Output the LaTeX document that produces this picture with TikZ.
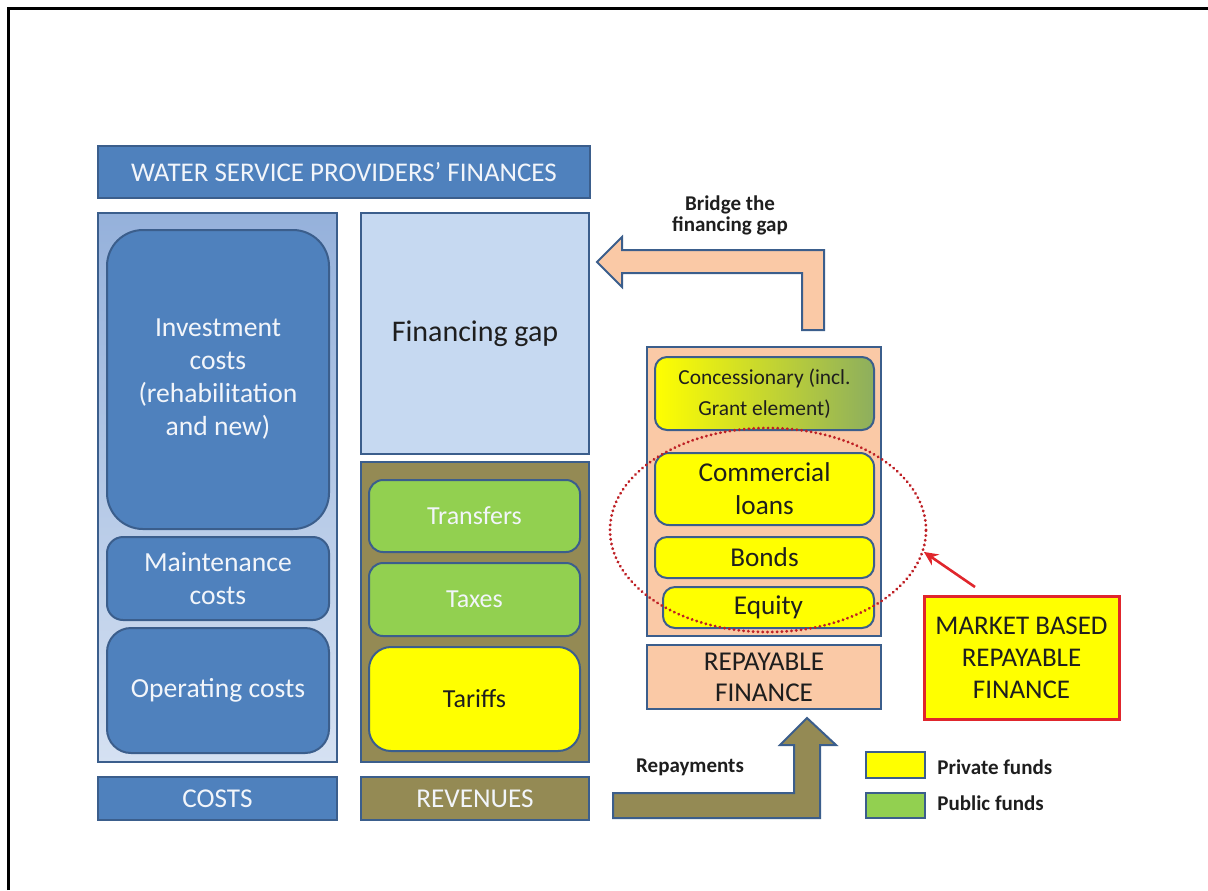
\documentclass[tikz,border=0pt]{standalone}
\usepackage{fontspec}
\setmainfont{Carlito}
\usetikzlibrary{shapes.geometric,arrows.meta}
\definecolor{blueF}{HTML}{4F81BD}
\definecolor{blueD}{HTML}{3B5E8C}
\definecolor{contTop}{HTML}{95B1DB}
\definecolor{contBot}{HTML}{D5E1F2}
\definecolor{gapF}{HTML}{C6D9F1}
\definecolor{oliveF}{HTML}{948A54}
\definecolor{greenF}{HTML}{92D050}
\definecolor{yellowF}{HTML}{FFFF00}
\definecolor{peachF}{HTML}{FAC9A6}
\definecolor{redL}{HTML}{E0262C}
\definecolor{txtW}{HTML}{F2F5FA}
\definecolor{txtD}{HTML}{1E1E1E}
\definecolor{concR}{HTML}{8DAE5E}
% box node from pixel corners: [options]{name}{x1}{y1}{x2}{y2}{text}
\newcommand\pxbox[7][]{%
  \pgfmathsetmacro\pxcx{(#3+#5)/2}%
  \pgfmathsetmacro\pxcy{(#4+#6)/2}%
  \pgfmathsetmacro\pxw{(#5-#3)/2}%
  \pgfmathsetmacro\pxh{(#6-#4)/2}%
  \node[#1, minimum width=\pxw pt, minimum height=\pxh pt] (#2) at (\pxcx,\pxcy) {#7};}
\begin{document}
\begin{tikzpicture}[x=0.5pt,y=-0.5pt,
  box/.style={draw=blueD, line width=1pt, inner sep=0pt, align=center},
  bluebox/.style={box, fill=blueF, text=txtW},
  greenbox/.style={box, fill=greenF, text=txtW},
  yelbox/.style={box, fill=yellowF, text=txtD},
  peachbox/.style={box, fill=peachF, text=txtD},
  lab/.style={font=\fontsize{13.6}{16.5}\selectfont},
  caps/.style={font=\fontsize{13.6}{15.5}\selectfont},
  boldlab/.style={font=\bfseries\fontsize{10.5}{10.5}\selectfont, text=txtD, align=center, inner sep=0pt},
  blockarrow/.style={draw=blueD, line width=1pt, line join=miter}
]
\useasboundingbox (0,0) rectangle (1208,890);
% frame
\draw[line width=1.5pt] (8,890) -- (8,8) -- (1208,8);

% title
\pxbox[bluebox, font=\fontsize{13.5}{15}\selectfont]{title}{98}{146}{590}{198}{WATER SERVICE PROVIDERS’ FINANCES}

% costs column
\pxbox[box, top color=contTop, bottom color=contBot]{costcol}{98}{213}{337}{762}{}
\pxbox[bluebox, lab, font=\fontsize{13.8}{16.5}\selectfont, rounded corners=18pt]{invest}{107}{230}{329}{529}{Investment\\costs\\(rehabilitation\\and new)}
\pxbox[bluebox, lab, font=\fontsize{13.8}{16.5}\selectfont, rounded corners=8pt]{maint}{107}{537}{329}{620}{Maintenance\\costs}
\pxbox[bluebox, lab, font=\fontsize{13.8}{16.5}\selectfont, rounded corners=12pt]{oper}{107}{628}{329}{753}{Operating costs}
\pxbox[bluebox, caps]{costs}{98}{777}{337}{820}{COSTS}

% revenues column
\pxbox[box, fill=gapF, text=txtD, font=\fontsize{15}{17}\selectfont]{gap}{361}{213}{589}{454}{Financing gap}
\pxbox[box, fill=oliveF]{revcol}{361}{462}{589}{762}{}
\pxbox[greenbox, font=\fontsize{13}{16}\selectfont, rounded corners=7pt]{transfers}{369}{480}{580}{552}{Transfers}
\pxbox[greenbox, font=\fontsize{13}{16}\selectfont, rounded corners=7pt]{taxes}{369}{563}{580}{636}{Taxes}
\pxbox[yelbox, font=\fontsize{13}{16}\selectfont, rounded corners=11pt]{tariffs}{369}{647}{580}{751}{Tariffs}
\pxbox[box, fill=oliveF, text=txtW, caps]{revenues}{361}{777}{589}{820}{REVENUES}

% repayable finance column
\pxbox[box, fill=peachF]{repcol}{647}{347}{881}{636}{}
\pxbox[box, left color=yellowF, right color=concR, text=txtD, rounded corners=6pt,
      font=\fontsize{10.7}{15.5}\selectfont]{conc}{655}{357}{874}{430}{Concessionary (incl.\\Grant element)}
\pxbox[yelbox, lab, rounded corners=7pt]{loans}{655}{453}{874}{525}{Commercial\\loans}
\pxbox[yelbox, lab, rounded corners=6pt]{bonds}{655}{537}{874}{578}{Bonds}
\pxbox[yelbox, lab, rounded corners=6pt]{equity}{663}{587}{874}{628}{Equity}
\pxbox[peachbox, caps]{repay}{647}{645}{881}{709}{REPAYABLE\\FINANCE}

% market based
\pxbox[draw=redL, line width=1.5pt, fill=yellowF, text=txtD, align=center, inner sep=0pt,
      font=\fontsize{13.5}{16}\selectfont]{market}{924}{596}{1119}{719}{MARKET BASED\\REPAYABLE\\FINANCE}

% dotted ellipse
\node[ellipse, draw=redL!85!black, line width=1.5pt, dash pattern=on 0.1pt off 2.3pt, line cap=round,
      minimum width=158pt, minimum height=102pt, inner sep=0pt] (ring) at (768,530) {};
\coordinate (rtail) at (975,587);
\draw[redL, line width=1.3pt, -{Stealth[length=7pt,width=6.5pt]}] (rtail) -- (ring.-8);

% bridge arrow
\draw[blockarrow, fill=peachF] (597,262) -- (622,237) -- (622,250) -- (824,250) -- (824,330)
  -- (802,330) -- (802,273) -- (622,273) -- (622,287) -- cycle;
\node[boldlab] (bridge) at (730,215) {Bridge the\\financing gap};

% repayments arrow
\draw[blockarrow, fill=oliveF] (613,793) -- (794,793) -- (794,745) -- (780,745) -- (807,718)
  -- (836,745) -- (820,745) -- (820,818) -- (613,818) -- cycle;
\node[boldlab] (repaylab) at (690,767) {Repayments};

% legend
\pxbox[yelbox]{legY}{866}{752}{925}{778}{}
\pxbox[greenbox]{legG}{866}{793}{925}{818}{}
\node[boldlab, anchor=west] (legYt) at (937,767) {Private funds};
\node[boldlab, anchor=west] (legGt) at (937,803) {Public funds};
\end{tikzpicture}
\end{document}
